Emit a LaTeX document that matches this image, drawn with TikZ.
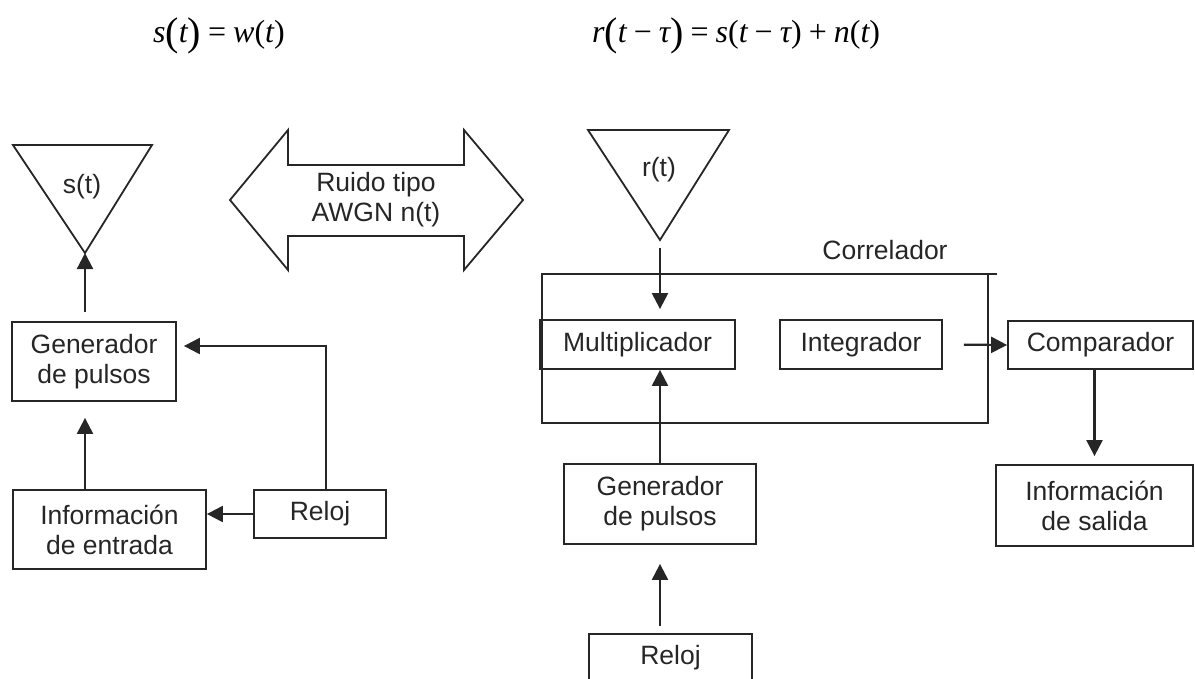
\documentclass[tikz,border=0pt]{standalone}
\usepackage{fontspec}
\setmainfont{Liberation Sans}
\newfontfamily\tnr{Liberation Serif}
\usetikzlibrary{arrows.meta,calc}
% enlarged upright parenthesis used in the signal equations
\newcommand\tallparen[1]{\raisebox{-3pt}{\fontsize{40}{40}\selectfont\upshape #1}}
\newcommand\eqfont{\tnr\fontsize{32}{38}\selectfont}
\newcommand\opsp{\hspace{7pt}}
\colorlet{ink}{black!85}
\tikzset{
  inkline/.style={draw=ink,line width=1.8pt},
  blockbox/.style={inkline,rectangle,inner sep=0pt,align=center,text=ink,
    font=\fontsize{26.5}{30}\selectfont},
  arr/.style={draw=ink,line width=2.2pt,-{Triangle[length=16pt,width=16pt]}},
  lbl/.style={text=ink,font=\fontsize{26.5}{30}\selectfont,align=center,inner sep=0pt},
  eqn/.style={anchor=base west,inner sep=0pt,text=black,font=\eqfont}
}
\begin{document}
\begin{tikzpicture}[x=1pt,y=-1pt]
\useasboundingbox (0,0) rectangle (1195,678);
\clip (0,0) rectangle (1195,678);

% ---------- equations ----------
\node[eqn] (eqS) at (153,42) {\itshape s\tallparen(t\tallparen)\opsp\upshape=\opsp\itshape w\upshape(\itshape t\upshape)};
\node[eqn] (eqR) at (592,42) {\itshape r\tallparen(t\opsp\upshape−\opsp\itshape τ\tallparen)\opsp\upshape=\opsp\itshape s\upshape(\itshape t\opsp\upshape−\opsp\itshape τ\upshape)\opsp+\opsp\itshape n\upshape(\itshape t\upshape)};

% ---------- transmitter ----------
\coordinate (sApex) at (85,253);
\draw[inkline,line join=miter] (13,145) -- (152,145) -- (sApex) -- cycle;
\node[lbl] (sLbl) at (82,187) {s(t)};

\node[blockbox,minimum width=164pt,minimum height=79pt] (genL) at (94,361.5) {Generador\\de pulsos};
\node[blockbox,minimum width=193pt,minimum height=79pt] (infoIn) at (109.5,529.5) {Información\\de entrada};
\node[blockbox,minimum width=132pt,minimum height=48pt] (relojL) at (320,514) {Reloj};
\coordinate (bendL) at (326,346);

\draw[arr,shorten <=9pt] (genL.north -| sApex) -- (sApex);
\draw[arr,shorten >=16pt] (infoIn.north -| sApex) -- (genL.south -| sApex);
\draw[arr,shorten >=7pt] (relojL.north -| bendL) -- (bendL) -- (genL.east |- bendL);
\draw[arr] (relojL.west) -- (infoIn.east |- relojL.west);

% ---------- channel noise ----------
\draw[inkline,line join=miter] (230,200) -- (288,130) -- (288,165) -- (464,165) -- (464,130)
  -- (523,200) -- (464,270) -- (464,236) -- (288,236) -- (288,270) -- cycle;
\node[lbl] (noise) at (376,200) {Ruido tipo\\AWGN n(t)};

% ---------- receiver ----------
\coordinate (rApex) at (660,240);
\draw[inkline,line join=miter] (588,130) -- (729,130) -- (rApex) -- cycle;
\node[lbl] (rLbl) at (659,170) {r(t)};

\coordinate (corrNW) at (542,274);
\coordinate (corrSE) at (988,423);
\draw[inkline] (997,274) -- (corrNW) -- (corrNW |- corrSE) -- (corrSE) -- (corrSE |- corrNW);
\node[lbl] (corrLbl) at (885,250) {Correlador};

\node[blockbox,minimum width=195pt,minimum height=49pt] (mult) at (637.5,344.5) {Multiplicador};
\node[blockbox,minimum width=162pt,minimum height=49pt] (integ) at (861,344.5) {Integrador};
\node[blockbox,minimum width=185pt,minimum height=48pt] (comp) at (1100.5,345) {Comparador};
\node[blockbox,minimum width=197pt,minimum height=81pt] (infoOut) at (1094.5,505.5) {Información\\de salida};
\node[blockbox,minimum width=192pt,minimum height=80pt] (genR) at (660,504) {Generador\\de pulsos};
\node[blockbox,minimum width=163pt,minimum height=48pt] (relojR) at (670.5,658) {Reloj};

\draw[arr,shorten <=8pt,shorten >=10pt] (rApex) -- (mult.north -| rApex);
\draw[arr] (genR.north) -- (mult.south -| genR.north);
\draw[arr,shorten <=7pt,shorten >=19pt] (relojR.north -| genR.south) -- (genR.south);
\draw[arr,shorten <=21pt] (integ.east) -- (comp.west);
\draw[arr,shorten >=8pt] (comp.south -| infoOut.north) -- (infoOut.north);
\end{tikzpicture}
\end{document}
